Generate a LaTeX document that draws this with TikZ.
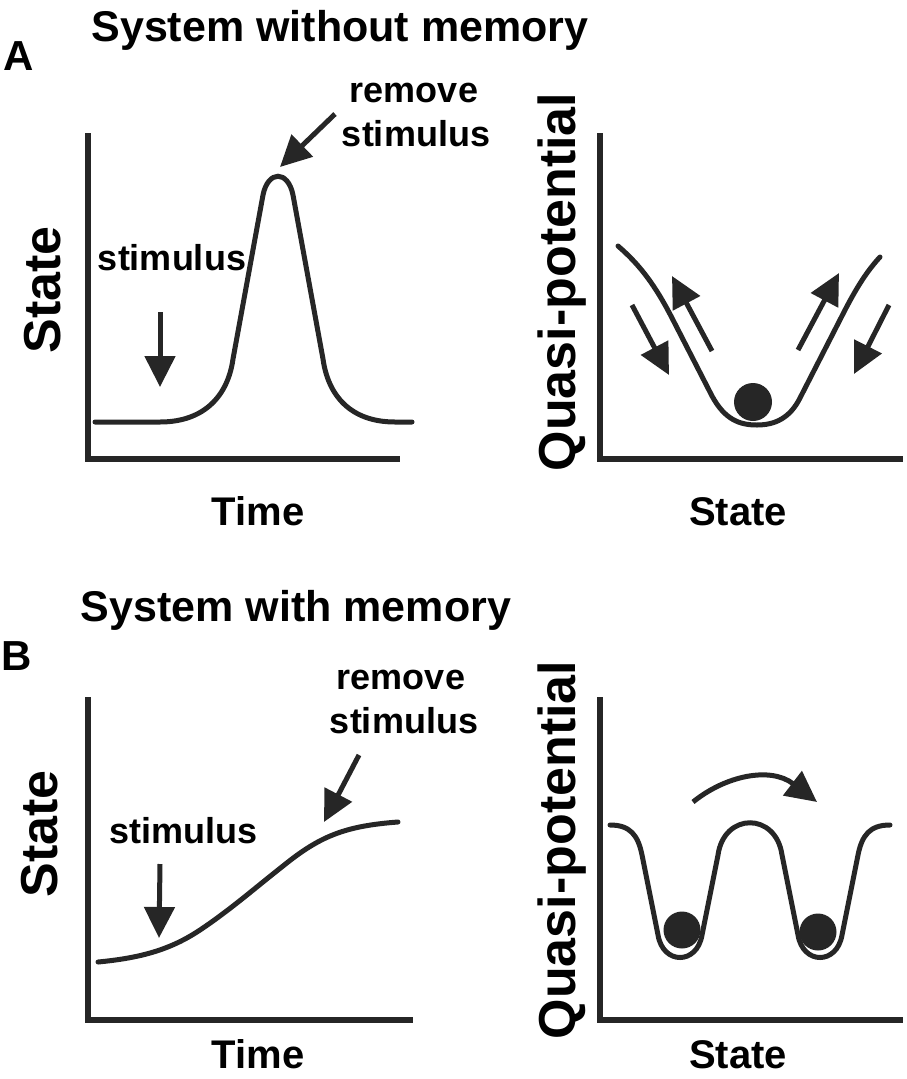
\documentclass[tikz,border=0pt]{standalone}
\usepackage{fontspec}
\setmainfont{Liberation Sans}
\usetikzlibrary{arrows.meta}
\definecolor{ink}{HTML}{262626}
\begin{document}
\begin{tikzpicture}[x=1pt,y=-1pt,
  curve/.style={draw=ink,line width=5pt,line cap=round},
  axis/.style={draw=ink,line width=6pt,line join=miter},
  arr/.style={draw=ink,line width=5pt,-{Triangle[length=31pt,width=30pt]}},
  lbl/.style={font=\fontsize{36}{44}\selectfont\bfseries,inner sep=0pt,anchor=base,align=center},
  plab/.style={font=\fontsize{42}{44}\selectfont\bfseries,inner sep=0pt,anchor=base},
  ttl/.style={font=\fontsize{43}{48}\selectfont\bfseries,inner sep=0pt,anchor=base},
  axl/.style={font=\fontsize{40}{44}\selectfont\bfseries,inner sep=0pt,anchor=base},
  yl/.style={font=\fontsize{52}{56}\selectfont\bfseries,inner sep=0pt,rotate=90,anchor=base},
  ball/.style={fill=ink}]
\useasboundingbox (0,0) rectangle (907,1079);

% ---------- Panel A ----------
\node[ttl] (titleA) at (340,41.5) {System without memory};
\node[plab] (labA) at (19,70) {A};

% left axes
\draw[axis] (88,133) -- (88,459) -- (400,459);
\node[yl] (stateA) at (60,290) {State};
\node[axl] (timeA) at (258,525) {Time};
\draw[curve] (95,422) -- (160,422) .. controls (205,422) and (228,395) .. (233,359)
  -- (263,195) .. controls (268,170) and (288,170) .. (293,195)
  -- (323,359) .. controls (328,395) and (350,422) .. (395,422) -- (412,422);
\node[lbl] (stimA) at (172,270) {stimulus};
\coordinate (stimAs) at (160,312);
\coordinate (stimAe) at (160,387);
\draw[arr] (stimAs) -- (stimAe);
\node[lbl] (remA1) at (414,102.5) {remove};
\node[lbl] (remA2) at (416,146) {stimulus};
\coordinate (remAs) at (335,114);
\coordinate (remAe) at (280,167);
\draw[arr] (remAs) -- (remAe);

% right axes
\draw[axis] (600,133) -- (600,459) -- (903,459);
\node[yl] (qpA) at (575,282) {Quasi-potential};
\node[axl] (sxA) at (738,525) {State};
\draw[curve] (618,246) .. controls (640,265) and (655,285) .. (672,318)
  -- (712,396) .. controls (725,420) and (740,425) .. (757,425)
  .. controls (775,425) and (790,418) .. (800,398)
  -- (845,310) .. controls (858,285) and (868,270) .. (880,257);
\fill[ball] (753,402) circle (19);
\coordinate (a1s) at (632,305); \coordinate (a1e) at (669,375);
\coordinate (a2s) at (712,351); \coordinate (a2e) at (672,276);
\coordinate (a3s) at (798,350); \coordinate (a3e) at (839,273);
\coordinate (a4s) at (889,305); \coordinate (a4e) at (854,374);
\draw[arr] (a1s) -- (a1e);
\draw[arr] (a2s) -- (a2e);
\draw[arr] (a3s) -- (a3e);
\draw[arr] (a4s) -- (a4e);

% ---------- Panel B ----------
\node[ttl] (titleB) at (296,621.5) {System with memory};
\node[plab] (labB) at (17,670) {B};

\draw[axis] (88,697) -- (88,1020) -- (413,1020);
\node[yl] (stateB) at (57,834) {State};
\node[axl] (timeB) at (258,1068) {Time};
\draw[curve] (98,962) .. controls (140,958) and (170,950) .. (200,930)
  .. controls (230,910) and (255,888) .. (283,866)
  .. controls (320,836) and (345,826) .. (398,822);
\node[lbl] (stimB) at (183.5,843) {stimulus};
\coordinate (stimBs) at (160,864);
\coordinate (stimBe) at (159,938);
\draw[arr] (stimBs) -- (stimBe);
\node[lbl] (remB1) at (401,689) {remove};
\node[lbl] (remB2) at (404,733) {stimulus};
\coordinate (remBs) at (359,755);
\coordinate (remBe) at (324,822);
\draw[arr] (remBs) -- (remBe);

\draw[axis] (600,697) -- (600,1020) -- (903,1020);
\node[yl] (qpB) at (575,850) {Quasi-potential};
\node[axl] (sxB) at (738,1068) {State};
\draw[curve] (610,825) .. controls (630,825) and (638,835) .. (642,855)
  -- (658,935) .. controls (663,965) and (697,965) .. (702,935)
  -- (718,855) .. controls (724,812) and (776,812) .. (782,855)
  -- (798,935) .. controls (803,965) and (837,965) .. (842,935)
  -- (858,855) .. controls (862,835) and (870,825) .. (890,825);
\fill[ball] (682,930) circle (18.5);
\fill[ball] (818,932) circle (18.5);
\coordinate (hs) at (693,802);
\coordinate (he) at (817,802);
\draw[arr] (hs) .. controls (725,776) and (770,766) .. (he);
\end{tikzpicture}
\end{document}
